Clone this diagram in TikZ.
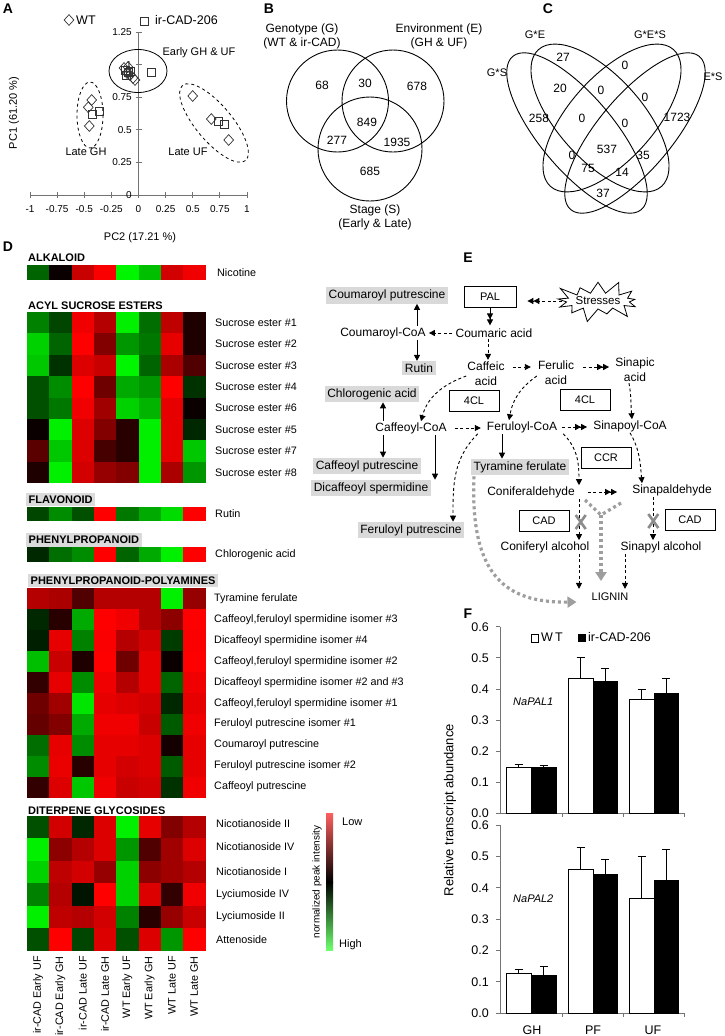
\documentclass[tikz,border=0pt]{standalone}
\usepackage{fontspec}
\setmainfont{Liberation Sans}
\usetikzlibrary{arrows.meta,shapes.geometric,shapes.symbols,calc}
\newcommand\hmblock[3]{%
  \foreach \hrw [count=\hri from 0] in {#3}{%
    \foreach \hv [count=\hci from 0] in \hrw {%
      \ifnum\hv<0 \pgfmathtruncatemacro\gval{-\hv}\definecolor{hcell}{RGB}{0,\gval,0}%
      \else\definecolor{hcell}{RGB}{\hv,0,0}\fi
      \fill[hcell] ({27+\hci*22.3},{#1+\hri*#2}) rectangle ({27.4+(\hci+1)*22.3},{#1+(\hri+1)*#2+0.4});
    }}}
\newcommand\fbar[7]{%
  \draw[line width=0.8pt,fill=#7] (#1,#3) rectangle (#2,{#3-#5*#4});
  \draw[line width=0.8pt] ({(#1+#2)/2},{#3-#5*#4}) -- ({(#1+#2)/2},{#3-#6*#4});
  \draw[line width=0.8pt] ({(#1+#2)/2-4},{#3-#6*#4}) -- ({(#1+#2)/2+4},{#3-#6*#4});}
\begin{document}
\begin{tikzpicture}[x=1pt,y=-1pt,
  t10/.style={inner sep=0pt,font=\fontsize{10}{12}\selectfont},
  t11/.style={inner sep=0pt,font=\fontsize{11}{13}\selectfont},
  t12/.style={inner sep=0pt,font=\fontsize{12}{14}\selectfont},
  t125/.style={inner sep=0pt,font=\fontsize{12.5}{14}\selectfont},
  t13/.style={inner sep=0pt,font=\fontsize{13}{15}\selectfont},
  lbl/.style={inner sep=0pt,anchor=west,font=\fontsize{10.8}{12}\selectfont},
  hdr/.style={inner sep=0pt,anchor=west,font=\fontsize{11}{12}\selectfont\bfseries},
  hdrbox/.style={hdr,fill=black!14,inner xsep=2.5pt,inner ysep=3pt},
  plet/.style={inner sep=0pt,font=\fontsize{14}{16}\selectfont\bfseries},
  axisl/.style={draw=black!55,line width=0.8pt},
  wtm/.style={diamond,draw=black!80,line width=0.7pt,inner sep=0pt,minimum width=10pt,minimum height=11pt},
  irm/.style={rectangle,draw=black!80,line width=0.7pt,inner sep=0pt,minimum size=8pt},
  ven/.style={line width=0.9pt},
  cpd/.style={inner sep=1pt,font=\fontsize{12}{15}\selectfont,align=center},
  gbox/.style={fill=black!15,inner xsep=2.5pt,inner ysep=2.5pt,font=\fontsize{12}{14}\selectfont},
  enz/.style={draw,line width=0.8pt,minimum width=50pt,minimum height=21pt,inner sep=0pt,font=\fontsize{11}{13}\selectfont},
  sarr/.style={line width=0.9pt,-{Triangle[length=6pt,width=6pt]}},
  sarr2/.style={line width=0.9pt,-{Triangle[length=6pt,width=6pt]Triangle[length=6pt,width=6pt]}},
  darr/.style={line width=0.9pt,dash pattern=on 3pt off 2.5pt,-{Triangle[length=6pt,width=6pt]}},
  darr2/.style={line width=0.9pt,dash pattern=on 3pt off 2.5pt,-{Triangle[length=6pt,width=6pt]Triangle[length=6pt,width=6pt]}},
  gdot/.style={line width=3.2pt,draw=black!38,dash pattern=on 3pt off 3pt},
  gdotarr/.style={gdot,-{Triangle[length=9pt,width=11pt,fill=black!38]}},
  gx/.style={line width=2.6pt,draw=black!45}
]
\useasboundingbox (0,0) rectangle (724,1036);
\fill[white] (0,0) rectangle (724,1036);

% ================= Panel A =================
\node[plet] (lA) at (8,9) {A};
\node[wtm] (lgw) at (69,20) {};
\node[t125,anchor=west] (lgwt) at (76,20) {WT};
\node[irm] (lgi) at (144,21) {};
\node[t125,anchor=west] (lgit) at (155,20) {ir-CAD-206};
\draw[axisl] (138.5,32) -- (138.5,195);
\draw[axisl] (30,195) -- (247,195);
\foreach \k in {0,...,8} \draw[axisl] ({30+\k*27.125},192) -- ++(0,6);
\foreach \k in {1,...,5} \draw[axisl] (135.5,{195-\k*32.6}) -- ++(6,0);
\foreach \t [count=\k from 0] in {-1,-0.75,-0.5,-0.25,0,0.25,0.5,0.75,1}
  \node[t10] (xa\k) at ({30+\k*27.125},209) {\t};
\foreach \t [count=\k from 0] in {0,0.25,0.5,0.75,1,1.25}
  \node[t10,anchor=east] (ya\k) at (132,{195-\k*32.6}) {\t};
\draw[line width=0.8pt] (138,71) ellipse [x radius=29, y radius=21.5];
\draw[line width=0.8pt,dashed] (90,115) ellipse [x radius=13, y radius=33];
\draw[line width=0.8pt,dashed,rotate around={-50:(214,123)}] (214,123) ellipse [x radius=49, y radius=18];
\node[t11] (eA) at (199,53) {Early GH \& UF};
\node[t11] (lgh) at (86,152) {Late GH};
\node[t11] (luf) at (188,152) {Late UF};
\node[t11] (pc2) at (140,238) {PC2 (17.21 \%)};
\node[t11,rotate=90] (pc1) at (14,113) {PC1 (61.20 \%)};
% markers
\node[wtm] (d1) at (124,68) {};
\node[wtm] (d2) at (127,73) {};
\node[wtm] (d3) at (130,75) {};
\node[wtm] (d4) at (133,78) {};
\node[wtm] (d5) at (135,80) {};
\node[wtm] (d6) at (128,67) {};
\node[irm] (s1) at (125,70) {};
\node[irm] (s2) at (128,72) {};
\node[irm] (s3) at (126,75) {};
\node[irm] (s4) at (130,71) {};
\node[irm] (s5) at (151,72) {};
\node[wtm] (d7) at (91.7,100) {};
\node[wtm] (d8) at (88.3,107.3) {};
\node[wtm] (d9) at (89.3,126) {};
\node[irm] (s6) at (92.7,114) {};
\node[irm] (s7) at (99.3,111) {};
\node[wtm] (d10) at (192.7,96) {};
\node[wtm] (d11) at (211.3,119) {};
\node[wtm] (d12) at (228.7,140) {};
\node[irm] (s8) at (218.7,121.7) {};
\node[irm] (s9) at (224,124.3) {};

% ================= Panel B =================
\node[plet] (lB) at (269,9) {B};
\draw[ven] (337.5,101) circle[radius=51];
\draw[ven] (393,101) circle[radius=51];
\draw[ven] (370,149) circle[radius=52];
\node[t12,align=center] (bG) at (302,36) {Genotype (G)\\(WT \& ir-CAD)};
\node[t12,align=center] (bE) at (439,36) {Environment (E)\\(GH \& UF)};
\node[t12,align=center] (bS) at (375,217) {Stage (S)\\(Early \& Late)};
\node[t12] (b1) at (322,85) {68};
\node[t12] (b2) at (365,83) {30};
\node[t12] (b3) at (417,86) {678};
\node[t12] (b4) at (367,122) {849};
\node[t12] (b5) at (337,140) {277};
\node[t12] (b6) at (397,142) {1935};
\node[t12] (b7) at (370,171) {685};

% ================= Panel C =================
\node[plet] (lC) at (548,9) {C};
\draw[ven,rotate around={-50:(577,133)}] (577,133) ellipse [x radius=100, y radius=37];
\draw[ven,rotate around={50:(635,133)}] (635,133) ellipse [x radius=100, y radius=37];
\draw[ven,rotate around={-48:(600,118)}] (600,118) ellipse [x radius=92, y radius=42];
\draw[ven,rotate around={48:(612,118)}] (612,118) ellipse [x radius=92, y radius=42];
\node[t11] (cGE) at (535,35) {G*E};
\node[t11] (cGES) at (650,35) {G*E*S};
\node[t11] (cGS) at (497,73) {G*S};
\node[t11] (cES) at (713,77) {E*S};
\node[t12] (c1) at (563,57) {27};
\node[t12] (c2) at (625,65) {0};
\node[t12] (c3) at (560,88) {20};
\node[t12] (c4) at (601,90) {0};
\node[t12] (c5) at (645,97) {0};
\node[t12] (c6) at (539,118) {258};
\node[t12] (c7) at (582,118) {0};
\node[t12] (c8) at (625,123) {0};
\node[t12] (c9) at (677,117) {1723};
\node[t12] (c10) at (607,149) {537};
\node[t12] (c11) at (572,155) {0};
\node[t12] (c12) at (643,155) {35};
\node[t12] (c13) at (588,168) {75};
\node[t12] (c14) at (622,172) {14};
\node[t12] (c15) at (603,193) {37};

% ================= Panel D =================
\node[plet] (lD) at (8,247) {D};
\node[hdr] (hAlk) at (28,258) {ALKALOID};
\hmblock{265}{15}{{-100,10,200,250,-245,-190,210,240}}
\node[lbl] (nic) at (217,272.5) {Nicotine};
\node[hdr] (hAcy) at (28,306) {ACYL SUCROSE ESTERS};
\hmblock{312}{21.375}{{-130,-70,240,180,-240,-110,190,30},
 {-210,-100,255,130,-150,-120,230,30},
 {-200,-50,220,200,-245,-100,170,80},
 {-80,-140,255,110,-170,-150,255,-50},
 {-80,-120,240,160,-210,-180,230,10},
 {10,-240,220,130,40,-240,230,-40},
 {90,-200,220,70,40,-240,230,-200},
 {30,-240,210,150,130,-240,170,-150}}
\foreach \t [count=\k from 0] in {Sucrose ester \#1,Sucrose ester \#2,Sucrose ester \#3,Sucrose ester \#4,Sucrose ester \#6,Sucrose ester \#5,Sucrose ester \#7,Sucrose ester \#8}
  \node[lbl] (se\k) at (215,{312+(\k+0.5)*21.375}) {\t};
\node[hdrbox] (hFla) at (26,499.5) {FLAVONOID};
\hmblock{507}{13.5}{{-70,-140,-80,255,-120,-170,-220,255}}
\node[lbl] (rut) at (215,513.5) {Rutin};
\node[hdrbox] (hPhe) at (26,540) {PHENYLPROPANOID};
\hmblock{547}{15}{{-40,-110,-140,255,-100,-170,-240,255}}
\node[lbl] (chla) at (215,554.5) {Chlorogenic acid};
\node[hdrbox] (hPP) at (28,580.5) {PHENYLPROPANOID-POLYAMINES};
\hmblock{588}{20.95}{{180,170,80,180,180,180,-240,150},
 {-40,40,-170,255,240,180,140,255},
 {-30,230,-130,250,180,210,-60,250},
 {-190,200,30,255,110,230,10,255},
 {50,230,-140,240,180,230,-100,240},
 {110,160,-230,230,220,210,-40,230},
 {100,130,-170,240,240,200,-90,240},
 {-110,230,-140,230,230,220,20,230},
 {-140,235,40,230,210,220,-90,230},
 {50,220,-200,240,200,210,-50,240}}
\foreach \t [count=\k from 0] in {Tyramine ferulate,{Caffeoyl,feruloyl spermidine isomer \#3},Dicaffeoyl spermidine isomer \#4,{Caffeoyl,feruloyl spermidine isomer \#2},Dicaffeoyl spermidine isomer \#2 and \#3,{Caffeoyl,feruloyl spermidine isomer \#1},Feruloyl putrescine isomer \#1,Coumaroyl putrescine,Feruloyl putrescine isomer \#2,Caffeoyl putrescine}
  \node[lbl] (pa\k) at (214,{588+(\k+0.5)*20.95}) {\t};
\node[hdr] (hDit) at (28,811) {DITERPENE GLYCOSIDES};
\hmblock{816}{22.45}{{-80,210,-40,220,-240,230,130,180},
 {-240,140,180,220,-150,80,160,220},
 {-210,190,210,150,-210,140,160,180},
 {-130,180,-20,255,-210,220,50,240},
 {-240,190,180,210,-130,40,150,200},
 {-80,255,-70,220,-80,220,-150,255}}
\foreach \t/\yy [count=\k from 0] in {Nicotianoside II/824,Nicotianoside IV/847,Nicotianoside I/872,Lyciumoside IV/895,Lyciumoside II/917,Attenoside/940}
  \node[lbl] (dt\k) at (216,\yy) {\t};
\foreach \t [count=\k from 0] in {ir-CAD Early UF,ir-CAD Early GH,ir-CAD Late UF,ir-CAD Late GH,WT Early UF,WT Early GH,WT Late UF,WT Late GH}
  \node[lbl,rotate=90,anchor=east] (cl\k) at ({27+(\k+0.5)*22.3},956) {\t};
% colour key
\shade[top color={rgb,255:red,255;green,95;blue,95},middle color={rgb,255:red,225;green,0;blue,0},bottom color=black] (326,813) rectangle (333,882);
\shade[top color=black,middle color={rgb,255:red,0;green,170;blue,0},bottom color={rgb,255:red,110;green,255;blue,110}] (326,882) rectangle (333,950);
\node[t11,anchor=west] (low) at (342,822) {Low};
\node[t11,anchor=west] (high) at (339,945) {High};
\node[t10,rotate=90] (npi) at (317,882) {normalized peak intensity};

% ================= Panel E =================
\node[plet] (lE) at (468,258) {E};
\node[gbox] (cput) at (387,295.5) {Coumaroyl putrescine};
\node[enz,minimum width=52pt] (pal) at (490,296.5) {PAL};
\node[starburst,draw,line width=0.8pt,starburst points=13,starburst point height=15pt,minimum width=84pt,minimum height=46pt,inner sep=0pt,font=\fontsize{11.5}{13}\selectfont] (stress) at (598,301) {Stresses};
\node[cpd] (cac) at (494,333) {Coumaric acid};
\node[cpd] (ccoa) at (383,333) {Coumaroyl-CoA};
\node[gbox] (rutin) at (419,368) {Rutin};
\node[cpd] (caf) at (486,374) {Caffeic\\acid};
\node[cpd] (fer) at (556,373) {Ferulic\\acid};
\node[cpd] (sin) at (635,370) {Sinapic\\acid};
\node[gbox] (chl) at (372,394) {Chlorogenic acid};
\node[enz] (cl1) at (474,401) {4CL};
\node[enz] (cl2) at (585,400) {4CL};
\node[cpd] (cfcoa) at (411,428) {Caffeoyl-CoA};
\node[cpd] (frcoa) at (522,427) {Feruloyl-CoA};
\node[cpd] (spcoa) at (630,426) {Sinapoyl-CoA};
\node[gbox] (cput2) at (367,466) {Caffeoyl putrescine};
\node[gbox] (dsp) at (371,488) {Dicaffeoyl spermidine};
\node[gbox] (tyr) at (520,467) {Tyramine ferulate};
\node[enz] (ccr) at (606,457.5) {CCR};
\node[cpd] (conald) at (531,492) {Coniferaldehyde};
\node[cpd] (sinald) at (672,490) {Sinapaldehyde};
\node[gbox] (fput) at (411,530) {Feruloyl putrescine};
\node[enz] (cad1) at (544,521) {CAD};
\node[enz] (cad2) at (690,520) {CAD};
\node[cpd] (conalc) at (545,547) {Coniferyl alcohol};
\node[cpd] (sinalc) at (661,547) {Sinapyl alcohol};
\node[cpd,font=\fontsize{11}{13}\selectfont] (lignin) at (610,597) {LIGNIN};
% grey dotted routes
\coordinate (g1) at ($(tyr.south west)+(3,1)$);
\coordinate (g2) at ($(lignin.west)+(-14,5)$);
\draw[gdotarr] (g1) .. controls (470,575) and (505,603) .. (g2);
\coordinate (g3) at (585,500);
\coordinate (g4) at (621,503);
\coordinate (gj) at (601,515);
\coordinate (g5) at (601,581);
\draw[gdot] (g3) -- (gj);
\draw[gdot] (g4) -- (gj);
\draw[gdotarr] (gj) -- (g5);
% arrows
\draw[darr2,shorten <=1pt,shorten >=11pt] (stress.west) -- (stress.west -| pal.east);
\draw[sarr2,shorten >=2pt] (pal.south) -- (pal.south |- cac.north);
\draw[darr,shorten <=2pt,shorten >=2pt] (cac.west) -- (ccoa.east);
\coordinate (e1) at ($(ccoa.north)+(34,0)$);
\draw[sarr] (e1) -- (e1 |- cput.south);
\coordinate (e2) at ($(ccoa.south)+(34,0)$);
\draw[sarr] (e2) -- (e2 |- rutin.north);
\coordinate (e3) at ($(cac.south)+(-6,0)$);
\draw[darr,shorten >=1pt] (e3) -- (e3 |- caf.north);
\draw[darr,shorten <=7pt,shorten >=6pt] ([yshift=7pt]caf.east) -- ([yshift=7pt]caf.east -| fer.west);
\draw[darr2,shorten <=8pt,shorten >=5pt] ([yshift=6pt]fer.east) -- ([yshift=6pt]fer.east -| sin.west);
\draw[darr] ([yshift=-2pt]caf.west) to[out=200,in=75] ($(cfcoa.north)+(10,0)$);
\draw[darr] ([yshift=-3pt]fer.west) to[out=215,in=80] ($(frcoa.north)+(-13,0)$);
\draw[darr] ($(sin.south)+(-6,0)$) to[out=-80,in=95] ($(spcoa.north)+(2,0)$);
\coordinate (e4) at ($(cfcoa.north)+(-28,0)$);
\draw[sarr] (e4) -- (e4 |- chl.south);
\coordinate (e5) at ($(cfcoa.south)+(-28,0)$);
\draw[sarr] (e5) -- (e5 |- cput2.north);
\coordinate (e6) at ($(cfcoa.south)+(24,0)$);
\draw[sarr] (e6) -- (e6 |- dsp.north);
\draw[darr,shorten <=7pt,shorten >=5pt] (cfcoa.east) -- (cfcoa.east -| frcoa.west);
\draw[darr2,shorten <=4pt,shorten >=5pt] (frcoa.east) -- (frcoa.east -| spcoa.west);
\coordinate (e7) at ($(frcoa.south)+(-20,0)$);
\draw[sarr] (e7) -- (e7 |- tyr.north);
\draw[darr] ($(frcoa.south east)+(5,0)$) to[out=-45,in=90] ($(conald.north)+(48,0)$);
\draw[darr] (spcoa.south) to[out=-60,in=95] ($(sinald.north)+(-30,0)$);
\draw[darr] ($(frcoa.south west)+(-8,0)$) to[out=225,in=90] ($(fput.north)+(42,0)$);
\draw[darr2,shorten <=12pt,shorten >=14pt] (conald.east) -- (conald.east -| sinald.west);
\coordinate (e8) at ($(conald.south)+(48,0)$);
\draw[darr] (e8) -- (e8 |- conalc.north);
\coordinate (e9) at ($(sinald.south)+(-19,0)$);
\draw[darr] (e9) -- (e9 |- sinalc.north);
\coordinate (e10) at ($(conalc.south)+(34,0)$);
\draw[darr,shorten >=3pt] (e10) -- (e10 |- lignin.north);
\coordinate (e11) at ($(sinalc.south)+(-36,0)$);
\draw[darr,shorten >=3pt] (e11) -- (e11 |- lignin.north);
% grey crosses on CAD steps
\coordinate (x1) at (580.7,522);
\coordinate (x2) at (653.3,521);
\draw[gx] ($(x1)+(-5,-7)$) -- ($(x1)+(5,7)$) ($(x1)+(-5,7)$) -- ($(x1)+(5,-7)$);
\draw[gx] ($(x2)+(-5,-7)$) -- ($(x2)+(5,7)$) ($(x2)+(-5,7)$) -- ($(x2)+(5,-7)$);

% ================= Panel F =================
\node[plet] (lF) at (468,614) {F};
\draw[axisl] (500,626.7) -- (500,813.3) -- (684,813.3);
\draw[axisl] (500,825.2) -- (500,1013) -- (684,1013);
\foreach \k in {0,...,6} {
  \draw[axisl] (496,{813.3-\k*31.1}) -- (500,{813.3-\k*31.1});
  \draw[axisl] (496,{1013-\k*31.3}) -- (500,{1013-\k*31.3});}
\foreach \xx in {562,623,684} {
  \draw[axisl] (\xx,813.3) -- (\xx,817.3);
  \draw[axisl] (\xx,1013) -- (\xx,1017);}
\foreach \t [count=\k from 0] in {0.0,0.1,0.2,0.3,0.4,0.5,0.6} {
  \node[t125,anchor=east] (fa\k) at (489,{813.3-\k*31.1}) {\t};
  \node[t125,anchor=east] (fb\k) at (489,{1013-\k*31.3}) {\t};}
\fbar{506}{531}{813.3}{311}{0.148}{0.158}{white}
\fbar{531}{556}{813.3}{311}{0.148}{0.155}{black}
\fbar{568}{593}{813.3}{311}{0.435}{0.50}{white}
\fbar{593}{617}{813.3}{311}{0.423}{0.465}{black}
\fbar{629}{654}{813.3}{311}{0.365}{0.399}{white}
\fbar{654}{678}{813.3}{311}{0.385}{0.435}{black}
\fbar{506}{531}{1013}{313}{0.125}{0.14}{white}
\fbar{531}{556}{1013}{313}{0.121}{0.148}{black}
\fbar{568}{593}{1013}{313}{0.459}{0.529}{white}
\fbar{593}{617}{1013}{313}{0.443}{0.491}{black}
\fbar{629}{654}{1013}{313}{0.366}{0.50}{white}
\fbar{654}{678}{1013}{313}{0.425}{0.523}{black}
\draw[line width=0.7pt,fill=white] (531,634) rectangle (538,642);
\node[t125,anchor=west] (fwt) at (541,637.5) {W\,T};
\fill (578,634) rectangle (586,642);
\node[t125,anchor=west] (fir) at (588,637.5) {ir-CAD-206};
\node[t11,anchor=west,font=\fontsize{11}{13}\selectfont\itshape] (np1) at (513,702) {NaPAL1};
\node[t11,anchor=west,font=\fontsize{11}{13}\selectfont\itshape] (np2) at (513,899) {NaPAL2};
\node[t13,rotate=90] (fyl) at (450,810) {Relative transcript abundance};
\node[t125] (fgh) at (532,1030) {GH};
\node[t125] (fpf) at (593,1030) {PF};
\node[t125] (fuf) at (653,1030) {UF};
\end{tikzpicture}
\end{document}
